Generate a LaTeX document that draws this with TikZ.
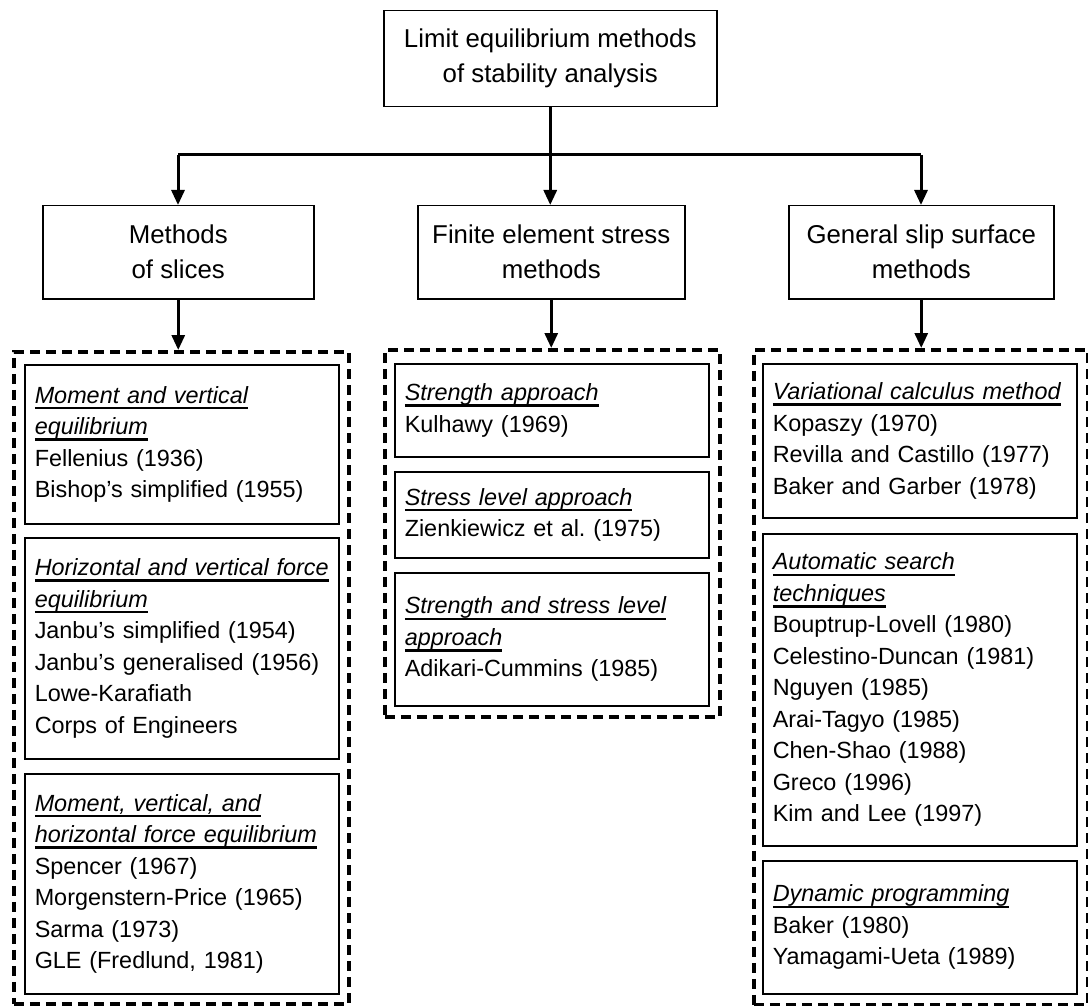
\documentclass[tikz,border=0pt]{standalone}
\usepackage{fontspec}
\setmainfont{Liberation Sans}
\usetikzlibrary{arrows.meta}
\frenchspacing
\newcommand{\hd}[1]{\mbox{\itshape\setbox0\hbox{#1}\rlap{\vrule height -3.8pt depth 6.2pt width\wd0}\box0}}
\newcommand{\bodyfont}{\frenchspacing\fontsize{23.4}{31.5}\selectfont}
\newcommand{\headfont}{\fontsize{25.8}{35}\selectfont}
\tikzset{
  topbox/.style={draw, line width=1.5pt, align=center, font=\headfont, anchor=north west, inner sep=0pt},
  inbox/.style={draw, line width=1.5pt, align=left, text width=294pt, inner xsep=10pt, inner ysep=0pt, font=\bodyfont, anchor=north west},
  dbox/.style={draw, line width=3.5pt, dash pattern=on 10pt off 6pt, anchor=north west, inner sep=0pt},
  conn/.style={line width=3pt},
  arr/.style={line width=3pt, -{Triangle[width=13pt,length=15pt]}}
}
\begin{document}
\begin{tikzpicture}[x=1pt,y=-1pt]
\useasboundingbox (0,0) rectangle (1088,1006);
\fill[white] (0,0) rectangle (1088,1006);
% level 0
\node[topbox, minimum width=333pt, minimum height=96pt] (top) at (383,10) {Limit equilibrium methods\\of stability analysis};
% level 1
\node[topbox, minimum width=271pt, minimum height=93pt] (ms) at (42,205) {Methods\\of slices};
\node[topbox, minimum width=267pt, minimum height=93pt] (fe) at (417,205) {Finite element stress\\methods};
\node[topbox, minimum width=265pt, minimum height=93pt] (gs) at (788,205) {General slip surface\\methods};
% dashed groups
\node[dbox, minimum width=335pt, minimum height=652pt] (dl) at (12,350) {};
\node[dbox, minimum width=335pt, minimum height=367pt] (dm) at (383,348) {};
\node[dbox, minimum width=334pt, minimum height=655pt] (dr) at (752,348) {};
% connectors
\coordinate (jl) at (178,155);
\coordinate (jr) at (921,155);
\draw[conn] (jl) -- (jr);
\draw[arr] (top.south) -- (top.south |- fe.north);
\draw[arr] (jl) -- (jl |- ms.north);
\draw[arr] (jr) -- (jr |- gs.north);
\draw[arr] (ms.south) -- (ms.south |- dl.north);
\draw[arr] (fe.south) -- (fe.south |- dm.north);
\draw[arr] (gs.south) -- (gs.south |- dr.north);
% left column
\node[inbox, minimum height=159pt] (l1) at (24,364) {\hd{Moment and vertical}\\\hd{equilibrium}\\Fellenius (1936)\\Bishop’s simplified (1955)};
\node[inbox, minimum height=221pt] (l2) at (24,537) {\hd{Horizontal and vertical force}\\\hd{equilibrium}\\Janbu’s simplified (1954)\\Janbu’s generalised (1956)\\Lowe-Karafiath\\Corps of Engineers};
\node[inbox, minimum height=220pt] (l3) at (24,773) {\hd{Moment, vertical, and}\\\hd{horizontal force equilibrium}\\Spencer (1967)\\Morgenstern-Price (1965)\\Sarma (1973)\\GLE (Fredlund, 1981)};
% middle column
\node[inbox, minimum height=93pt] (m1) at (394,363) {\hd{Strength approach}\\Kulhawy (1969)};
\node[inbox, minimum height=86pt] (m2) at (394,471) {\hd{Stress level approach}\\Zienkiewicz et al. (1975)};
\node[inbox, minimum height=133pt] (m3) at (394,572) {\hd{Strength and stress level}\\\hd{approach}\\Adikari-Cummins (1985)};
% right column
\node[inbox, minimum height=154pt] (r1) at (762,363) {\hd{Variational calculus method}\\Kopaszy (1970)\\Revilla and Castillo (1977)\\Baker and Garber (1978)};
\node[inbox, minimum height=312pt] (r2) at (762,533) {\hd{Automatic search}\\\hd{techniques}\\Bouptrup-Lovell (1980)\\Celestino-Duncan (1981)\\Nguyen (1985)\\Arai-Tagyo (1985)\\Chen-Shao (1988)\\Greco (1996)\\Kim and Lee (1997)};
\node[inbox, minimum height=133pt] (r3) at (762,860) {\hd{Dynamic programming}\\Baker (1980)\\Yamagami-Ueta (1989)};
\end{tikzpicture}
\end{document}
